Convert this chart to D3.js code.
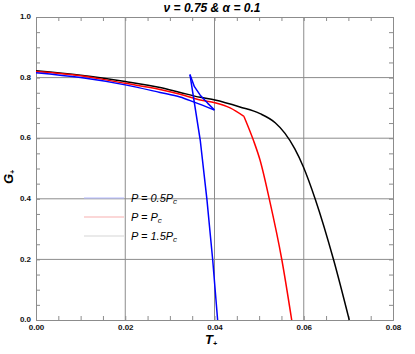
<!DOCTYPE html>
<html><head><meta charset="utf-8">
<script src="https://cdn.jsdelivr.net/npm/d3@7"></script>
<style>body{margin:0;background:#fff}svg{display:block}</style>
</head><body>
<svg id="c" width="415" height="354"></svg>
<script>
const xTicks=[0,0.02,0.04,0.06,0.08];
const yTicks=[0,0.2,0.4,0.6,0.8,1.0];
const blackT=[0,0.01,0.02,0.0278,0.0323,0.0368,0.0401,0.0457,0.0502,0.0536,0.0558,0.058,0.0599,0.0626,0.0667,0.0702];
const blackG=[0.823,0.808,0.787,0.767,0.751,0.735,0.726,0.703,0.681,0.651,0.616,0.565,0.506,0.398,0.198,0];
const redT=[0,0.01,0.02,0.0278,0.0323,0.0368,0.0401,0.0435,0.0466,0.0487,0.0502,0.0523,0.0551,0.0573];
const redG=[0.82,0.806,0.781,0.761,0.745,0.726,0.717,0.70,0.672,0.594,0.528,0.398,0.198,0];
const blueT=[0,0.01,0.02,0.0278,0.0323,0.0353,0.040,0.0385,0.0368,0.0355,0.0345,0.0368,0.0383,0.0396,0.0407];
const blueG=[0.816,0.80,0.776,0.751,0.736,0.72,0.693,0.715,0.742,0.77,0.81,0.594,0.398,0.198,0];
const legendLabels=[["P = 0.5P","c"],["P = P","c"],["P = 1.5P","c"]];
const legendColors=["#b4baff","#f7b0b0","#d6d6d6"];

const svg=d3.select("#c");
const L=36,R=393,T=17,B=320;
const x=d3.scaleLinear().domain([0,0.08]).range([L,R]);
const y=d3.scaleLinear().domain([0,1]).range([B,T]);
const grid="#8c8c8c";
const font="Liberation Sans, Arial, sans-serif";

// gridlines
svg.append("g").selectAll("line").data(xTicks.slice(1,-1)).join("line")
 .attr("x1",d=>x(d)).attr("x2",d=>x(d)).attr("y1",T).attr("y2",B).attr("stroke",grid).attr("stroke-width",1);
svg.append("g").selectAll("line").data(yTicks.slice(1,-1)).join("line")
 .attr("y1",d=>y(d)).attr("y2",d=>y(d)).attr("x1",L).attr("x2",R).attr("stroke",grid).attr("stroke-width",1);

// axes with inward minor ticks
const xMinor=d3.range(0,0.0801,0.005);
const yMinor=d3.range(0,1.001,0.05);
function mk(axis,tr){return svg.append("g").attr("transform",tr).call(axis);}
const ax1=mk(d3.axisBottom(x).tickValues(xMinor).tickSize(-4).tickFormat(()=>""),`translate(0,${B})`);
const ax2=mk(d3.axisTop(x).tickValues(xMinor).tickSize(-4).tickFormat(()=>""),`translate(0,${T})`);
const ay1=mk(d3.axisLeft(y).tickValues(yMinor).tickSize(-4).tickFormat(()=>""),`translate(${L},0)`);
const ay2=mk(d3.axisRight(y).tickValues(yMinor).tickSize(-4).tickFormat(()=>""),`translate(${R},0)`);
[ax1,ax2,ay1,ay2].forEach(g=>{g.selectAll("path,line").attr("stroke",grid);});
// labels
const xl=svg.append("g").attr("transform",`translate(0,${B})`).call(d3.axisBottom(x).tickValues(xTicks).tickSize(0).tickPadding(4).tickFormat(d3.format(".2f")));
xl.select(".domain").remove();
xl.selectAll("text").attr("font-family",font).attr("font-size",8).attr("font-weight","bold").attr("fill","#111");
const yl=svg.append("g").attr("transform",`translate(${L},0)`).call(d3.axisLeft(y).tickValues(yTicks).tickSize(0).tickPadding(5).tickFormat(d3.format(".1f")));
yl.select(".domain").remove();
yl.selectAll("text").attr("font-family",font).attr("font-size",8).attr("font-weight","bold").attr("fill","#111").attr("dy","0.2em");

// curves
const smooth=d3.line().x(d=>x(d[0])).y(d=>y(d[1])).curve(d3.curveMonotoneX);
const straight=d3.line().x(d=>x(d[0])).y(d=>y(d[1]));
function pts(t,g){return t.map((v,i)=>[v,g[i]]);}
function draw(d,gen,c){
 svg.append("path").datum(d).attr("d",gen).attr("fill","none").attr("stroke",c).attr("stroke-width",1.5).attr("stroke-linejoin","round");
}
draw(pts(blackT,blackG),smooth,"#000");
const rp=pts(redT,redG);
draw(rp.slice(0,9),smooth,"#ff0000");
draw(rp.slice(8),smooth,"#ff0000");
const bp=pts(blueT,blueG);
draw(bp.slice(0,7),smooth,"#0000ff");
draw(bp.slice(6,11),straight,"#0000ff");
draw(bp.slice(10),straight,"#0000ff");

// legend
const ly=[198,217,236];
legendLabels.forEach((lab,i)=>{
 svg.append("line").attr("x1",84).attr("x2",124).attr("y1",ly[i]).attr("y2",ly[i]).attr("stroke",legendColors[i]).attr("stroke-width",1.2);
 const t=svg.append("text").attr("x",131).attr("y",ly[i]+4).attr("font-family",font).attr("font-size",11).attr("font-style","italic").attr("fill","#000");
 t.append("tspan").text(lab[0]);
 t.append("tspan").attr("font-size",8).attr("dy",2).text(lab[1]);
});

// title
svg.append("text").attr("x",212).attr("y",12).attr("text-anchor","middle")
 .attr("font-family",font).attr("font-size",12).attr("font-weight","bold").attr("font-style","italic")
 .text("ν = 0.75 & α = 0.1");
// axis titles
const xt=svg.append("text").attr("x",211).attr("y",344).attr("text-anchor","middle")
 .attr("font-family",font).attr("font-size",13).attr("font-weight","bold").attr("font-style","italic");
xt.append("tspan").text("T");
xt.append("tspan").attr("font-size",7).attr("dy",2).text("+");
const yt=svg.append("text").attr("transform","translate(13,177) rotate(-90)").attr("text-anchor","middle")
 .attr("font-family",font).attr("font-size",13).attr("font-weight","bold").attr("font-style","italic");
yt.append("tspan").text("G");
yt.append("tspan").attr("font-size",7).attr("dy",2).text("+");
</script>
</body></html>
